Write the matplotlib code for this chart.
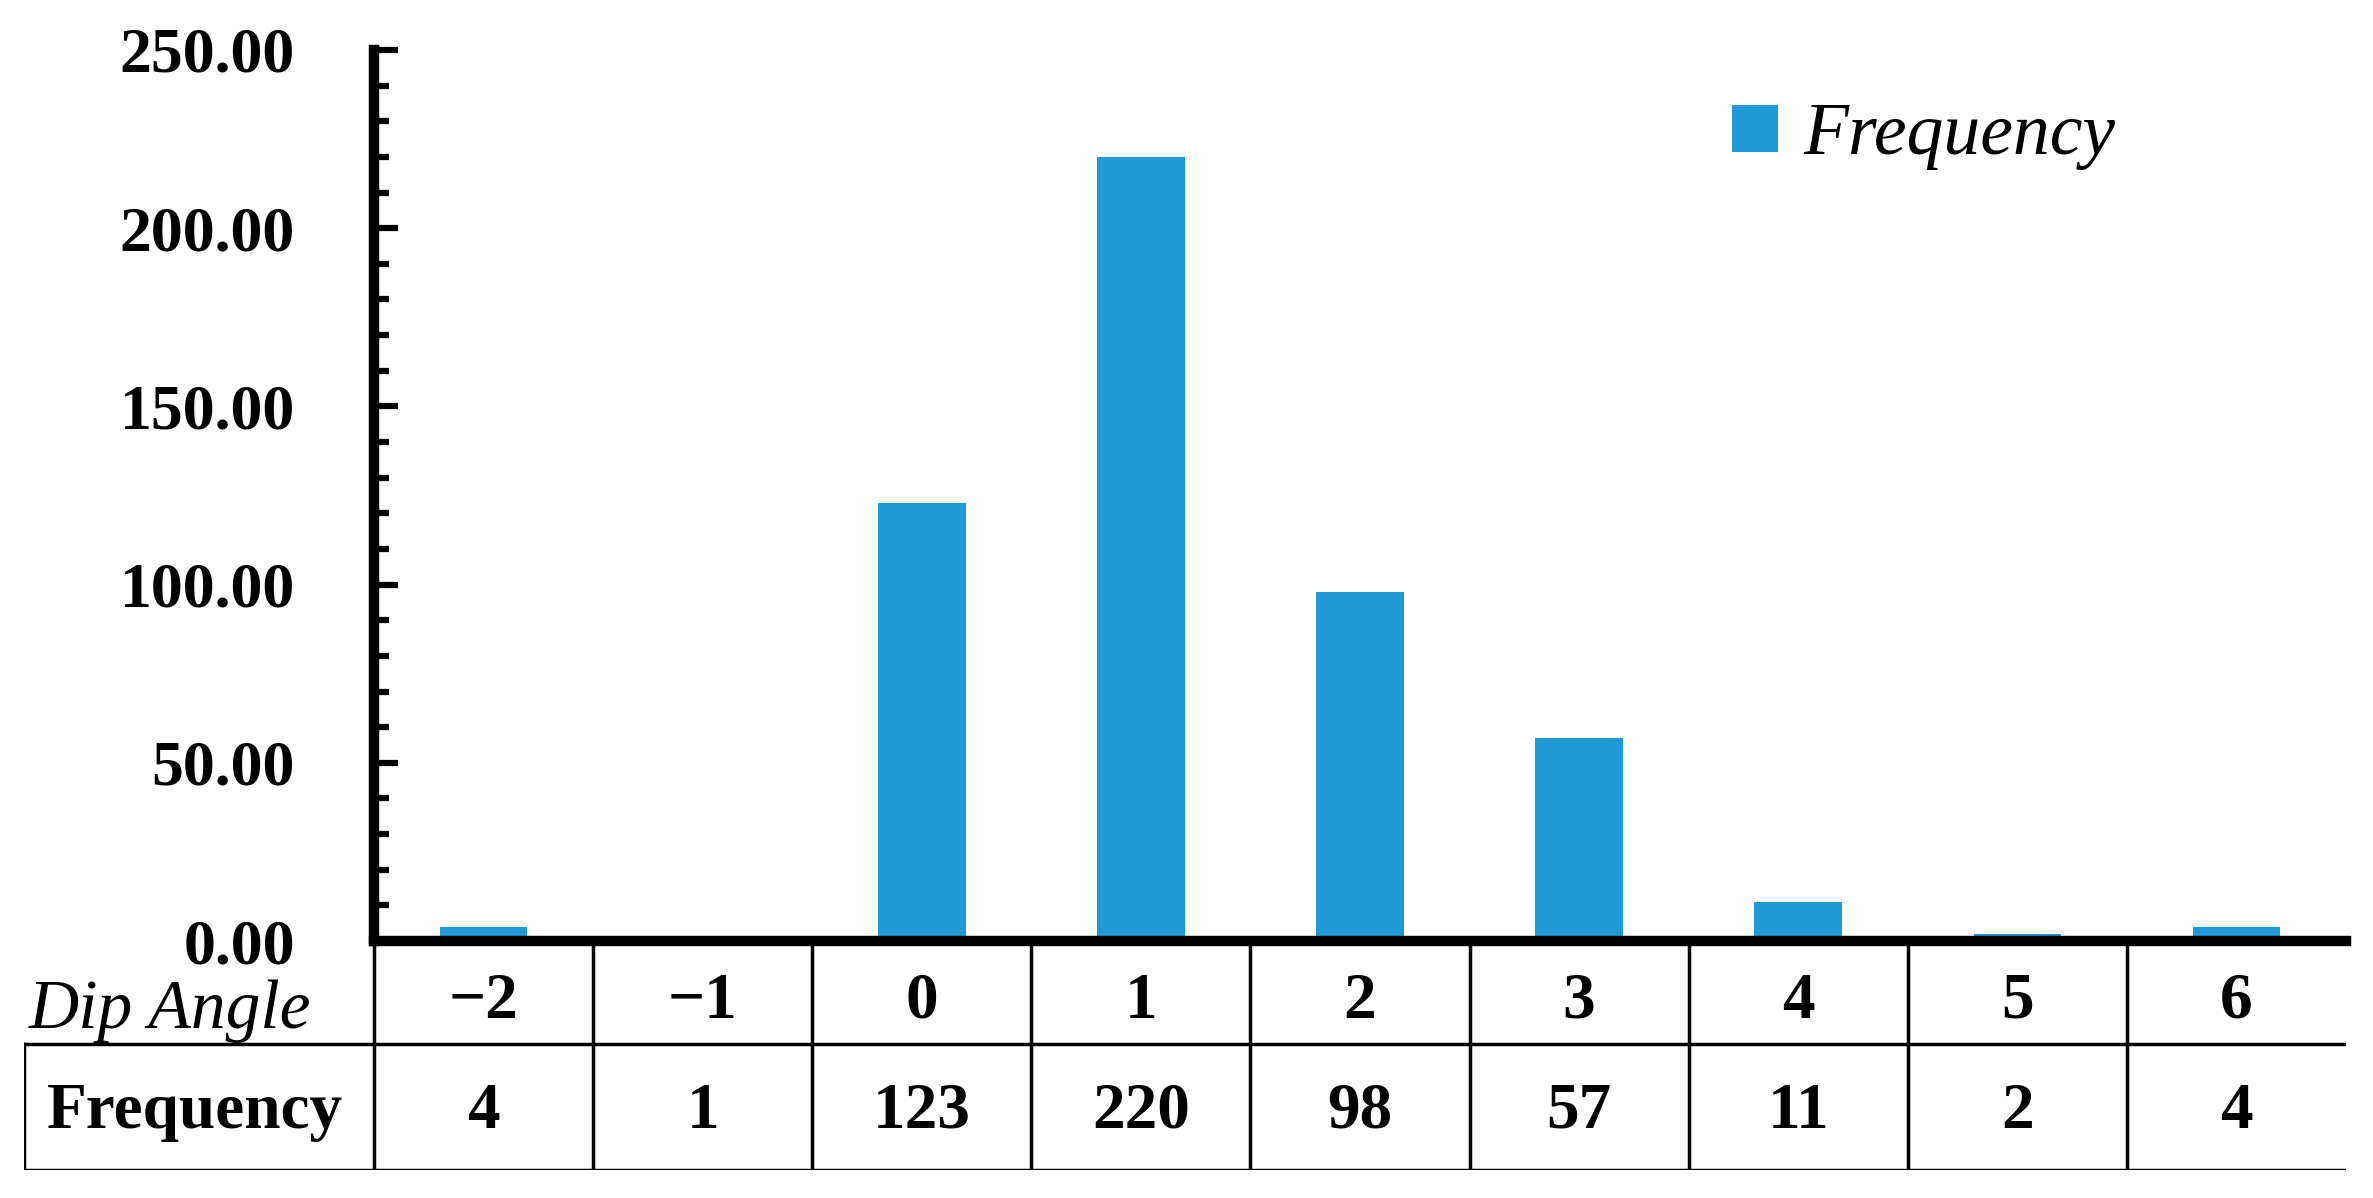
import matplotlib.pyplot as plt
from matplotlib.ticker import MultipleLocator, FormatStrFormatter

# Data
dip_angles = ['\u22122', '\u22121', '0', '1', '2', '3', '4', '5', '6']
frequency = [4, 1, 123, 220, 98, 57, 11, 2, 4]

bar_color = '#1f9ad6'
W, H = 2373, 1198
plt.rcParams['font.family'] = 'Liberation Serif'

fig = plt.figure(figsize=(W / 100, H / 100), dpi=100)

# pixel layout of the reference
ax_left, ax_right, ax_top, ax_bottom = 374, 2346, 50, 941
tab_left, tab_bottom = 24, 1170

ax = fig.add_axes([ax_left / W, 1 - ax_bottom / H,
                   (ax_right - ax_left) / W, (ax_bottom - ax_top) / H])
x = list(range(len(dip_angles)))
ax.bar(x, frequency, width=0.4, color=bar_color, label='Frequency', zorder=1)
ax.set_xlim(-0.5, len(x) - 0.5)
ax.set_ylim(0, 250)
ax.yaxis.set_major_locator(MultipleLocator(50))
ax.yaxis.set_minor_locator(MultipleLocator(10))
ax.yaxis.set_major_formatter(FormatStrFormatter('%.2f'))
ax.set_xticks([])
for s in ['top', 'right']:
    ax.spines[s].set_visible(False)
for s in ['left', 'bottom']:
    ax.spines[s].set_linewidth(7.5)
    ax.spines[s].set_zorder(3)
ax.tick_params(axis='y', which='major', direction='in', length=17, width=4.5,
               pad=57, labelsize=46)
ax.tick_params(axis='y', which='minor', direction='in', length=11, width=4.5)
for lab in ax.get_yticklabels():
    lab.set_fontweight('bold')

leg = ax.legend(loc='upper left', bbox_to_anchor=(0.655, 1.015), frameon=False,
                handlelength=0.62, handleheight=0.62, handletextpad=0.35,
                prop={'style': 'italic', 'size': 53})

# data table below the axis
unit = (ax_right - ax_left) / len(x)
left_lim = -0.5 - (ax_left - tab_left) / unit
tab = fig.add_axes([tab_left / W, 1 - tab_bottom / H,
                    (ax_right - tab_left) / W, (tab_bottom - ax_bottom) / H])
tab.set_xlim(left_lim, len(x) - 0.5)
tab.set_ylim(0, 1)
tab.axis('off')
mid = (tab_bottom - 1044) / (tab_bottom - ax_bottom)
lw = 2.5
for b in range(len(x)):
    tab.plot([b - 0.5, b - 0.5], [0, 1], color='black', lw=lw)
tab.plot([left_lim, left_lim], [0, mid], color='black', lw=lw)
tab.plot([left_lim, len(x) - 0.5], [0, 0], color='black', lw=lw)
tab.plot([left_lim, len(x) - 0.5], [mid, mid], color='black', lw=lw)

y_row1 = (tab_bottom - 1002) / (tab_bottom - ax_bottom)
y_row2 = (tab_bottom - 1112) / (tab_bottom - ax_bottom)
y_hdr1 = (tab_bottom - 1011) / (tab_bottom - ax_bottom)
for xi, a, f in zip(x, dip_angles, frequency):
    tab.text(xi, y_row1, a, ha='center', va='center', fontsize=47, fontweight='bold')
    tab.text(xi, y_row2, str(f), ha='center', va='center', fontsize=47, fontweight='bold')
hdr_x = (left_lim - 0.5) / 2
tab.text(hdr_x - 0.13, y_hdr1, 'Dip Angle', ha='center', va='center',
         fontsize=50, style='italic')
tab.text(hdr_x - 0.02, y_row2, 'Frequency', ha='center', va='center',
         fontsize=47, fontweight='bold')

fig.savefig('out.png', dpi=100)
